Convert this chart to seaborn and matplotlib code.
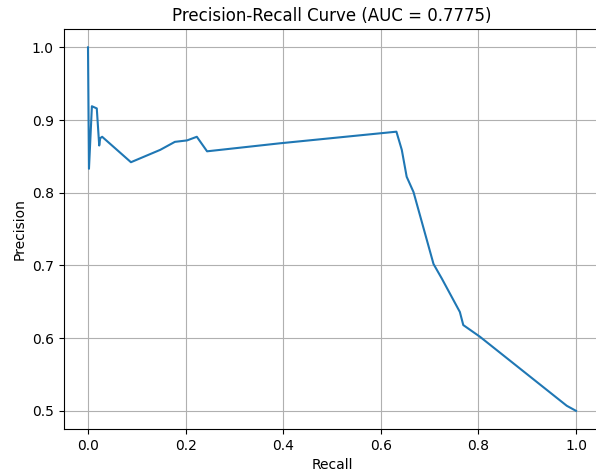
import numpy as np
import pandas as pd
import matplotlib
matplotlib.use("Agg")
import matplotlib.pyplot as plt
import seaborn as sns

# Points (recall -> precision)
recall = [0.0, 0.002, 0.008, 0.018, 0.023, 0.025, 0.029, 0.088, 0.148, 0.178,
          0.203, 0.223, 0.244, 0.393, 0.632, 0.643, 0.653, 0.667, 0.708, 0.725,
          0.762, 0.769, 0.803, 0.981, 1.0]
precision = [1.0, 0.833, 0.919, 0.916, 0.865, 0.875, 0.877, 0.842, 0.859, 0.870,
             0.872, 0.877, 0.857, 0.868, 0.884, 0.859, 0.822, 0.801, 0.702, 0.682,
             0.636, 0.618, 0.602, 0.507, 0.500]
auc_value = 0.7775

df_curve = pd.DataFrame({"Recall": recall, "Precision": precision})

fig = plt.figure(figsize=(5.96, 4.76), dpi=100)
ax = fig.add_axes([0.1067, 0.0987, 0.9007, 0.840])

sns.lineplot(data=df_curve, x="Recall", y="Precision", sort=False,
             estimator=None, color="#1f77b4", linewidth=1.5, ax=ax)

ax.set_title("Precision-Recall Curve (AUC = " + str(auc_value) + ")")
ax.set_xlabel("Recall")
ax.set_ylabel("Precision")
ax.set_xlim(-0.05, 1.05)
ax.set_ylim(0.475, 1.025)
ax.grid(True)
# the right edge of the frame falls outside the picture in the reference
ax.spines["right"].set_visible(False)

fig.savefig("out.png", dpi=100)
